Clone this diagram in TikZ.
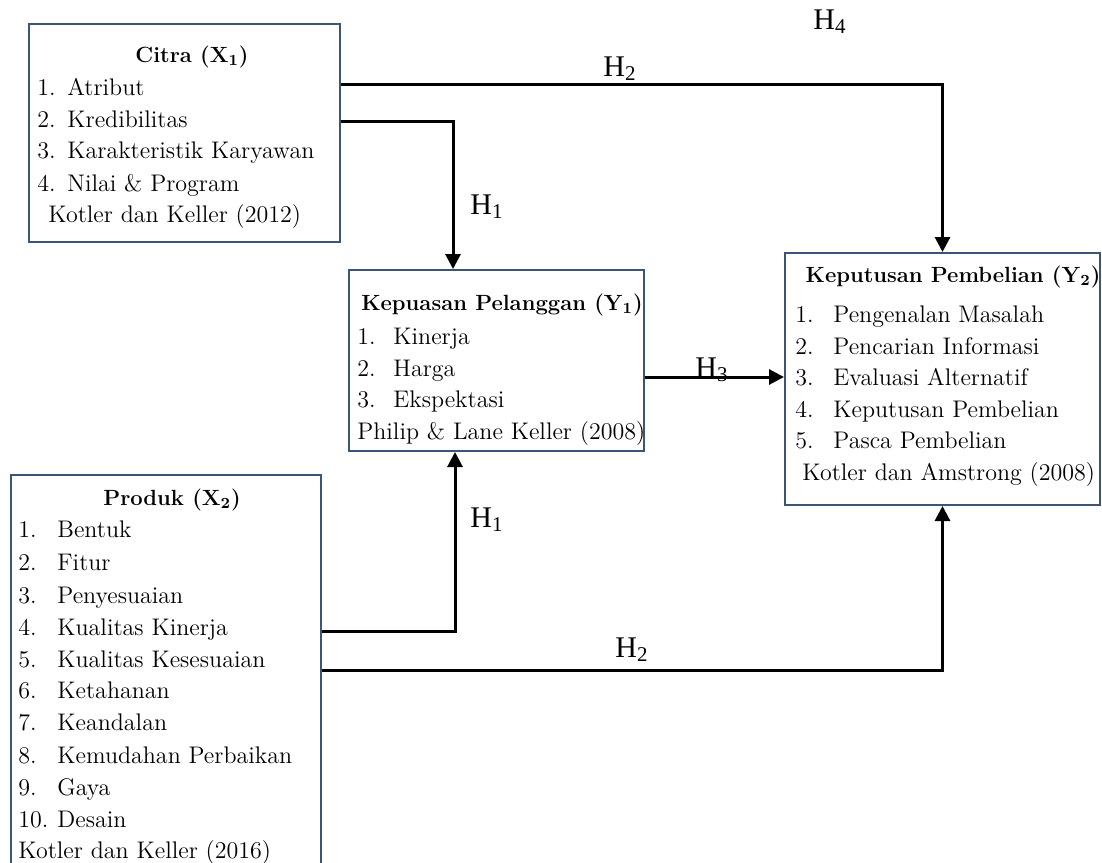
\documentclass[tikz,border=0pt]{standalone}
\usepackage{fontspec}
\newfontfamily\hfont{Liberation Serif}
\usetikzlibrary{arrows.meta,fit}
\definecolor{boxc}{HTML}{3B5573}
\begin{document}
\begin{tikzpicture}[x=0.5pt,y=-0.5pt,
  box/.style={draw=boxc,line width=1pt,inner sep=0pt},
  txt/.style={anchor=base west,inner sep=0pt,font=\fontsize{12}{14}\selectfont},
  ttl/.style={anchor=base,inner sep=0pt,font=\fontsize{11}{13}\selectfont\bfseries},
  hl/.style={inner sep=0pt,font=\hfont\fontsize{15}{17}\selectfont},
  conn/.style={line width=1.5pt,-{Triangle[length=7.5pt,width=7.5pt]}}]
\useasboundingbox (0,0) rectangle (1102,862);
% boxes
\node[box,fit={(29,24)(340,242)}] (citra) {};
\node[box,fit={(349,270)(644,451)}] (kepuasan) {};
\node[box,fit={(785,253)(1100,505)}] (keputusan) {};
\node[box,fit={(11,475)(321,880)}] (produk) {};
% Citra
\node[ttl] (ct) at (192,62) {Citra (X\textsubscript{1})};
\node[txt] (c1) at (37,95) {\makebox[15pt][l]{1.}Atribut};
\node[txt] (c2) at (37,127) {\makebox[15pt][l]{2.}Kredibilitas};
\node[txt] (c3) at (37,158) {\makebox[15pt][l]{3.}Karakteristik Karyawan};
\node[txt] (c4) at (37,191) {\makebox[15pt][l]{4.}Nilai \& Program};
\node[txt] (c5) at (48,222) {Kotler dan Keller (2012)};
% Kepuasan
\node[ttl] (kt) at (502,310) {Kepuasan Pelanggan (Y\textsubscript{1})};
\node[txt] (k1) at (357,344) {\makebox[18pt][l]{1.}Kinerja};
\node[txt] (k2) at (357,376) {\makebox[18pt][l]{2.}Harga};
\node[txt] (k3) at (357,407) {\makebox[18pt][l]{3.}Ekspektasi};
\node[txt] (k4) at (357,439) {Philip \& Lane Keller (2008)};
% Keputusan
\node[ttl] (pt) at (953,282) {Keputusan Pembelian (Y\textsubscript{2})};
\node[txt] (p1) at (795,322) {\makebox[19pt][l]{1.}Pengenalan Masalah};
\node[txt] (p2) at (795,354) {\makebox[19pt][l]{2.}Pencarian Informasi};
\node[txt] (p3) at (795,385) {\makebox[19pt][l]{3.}Evaluasi Alternatif};
\node[txt] (p4) at (795,417) {\makebox[19pt][l]{4.}Keputusan Pembelian};
\node[txt] (p5) at (795,448) {\makebox[19pt][l]{5.}Pasca Pembelian};
\node[txt] (p6) at (802,480) {Kotler dan Amstrong (2008)};
% Produk
\node[ttl] (rt) at (172,505) {Produk (X\textsubscript{2})};
\node[txt] (r1) at (18,537) {\makebox[19.5pt][l]{1.}Bentuk};
\node[txt] (r2) at (18,570) {\makebox[19.5pt][l]{2.}Fitur};
\node[txt] (r3) at (18,603) {\makebox[19.5pt][l]{3.}Penyesuaian};
\node[txt] (r4) at (18,635) {\makebox[19.5pt][l]{4.}Kualitas Kinerja};
\node[txt] (r5) at (18,667) {\makebox[19.5pt][l]{5.}Kualitas Kesesuaian};
\node[txt] (r6) at (18,698) {\makebox[19.5pt][l]{6.}Ketahanan};
\node[txt] (r7) at (18,730) {\makebox[19.5pt][l]{7.}Keandalan};
\node[txt] (r8) at (18,763) {\makebox[19.5pt][l]{8.}Kemudahan Perbaikan};
\node[txt] (r9) at (18,795) {\makebox[19.5pt][l]{9.}Gaya};
\node[txt] (r10) at (18,827) {\makebox[19.5pt][l]{10.}Desain};
\node[txt] (r11) at (18,858) {Kotler dan Keller (2016)};
% labels
\node[hl] (h4) at (830,22) {H\textsubscript{4}};
\node[hl] (h2a) at (620,69) {H\textsubscript{2}};
\node[hl] (h1a) at (487,207) {H\textsubscript{1}};
\node[hl] (h3) at (712,370) {H\textsubscript{3}};
\node[hl] (h1b) at (487,520) {H\textsubscript{1}};
\node[hl] (h2b) at (632,650) {H\textsubscript{2}};
% connectors
\draw[conn] (citra.east |- 0,84) -| (keputusan.north);
\draw[conn] (citra.east |- 0,121) -| (kepuasan.north -| 453,0);
\draw[conn] (kepuasan.east |- 0,377) -- (keputusan.west |- 0,377);
\draw[conn] (produk.east |- 0,631) -| (kepuasan.south -| 455,0);
\draw[conn] (produk.east |- 0,670) -| (keputusan.south);
\end{tikzpicture}
\end{document}
